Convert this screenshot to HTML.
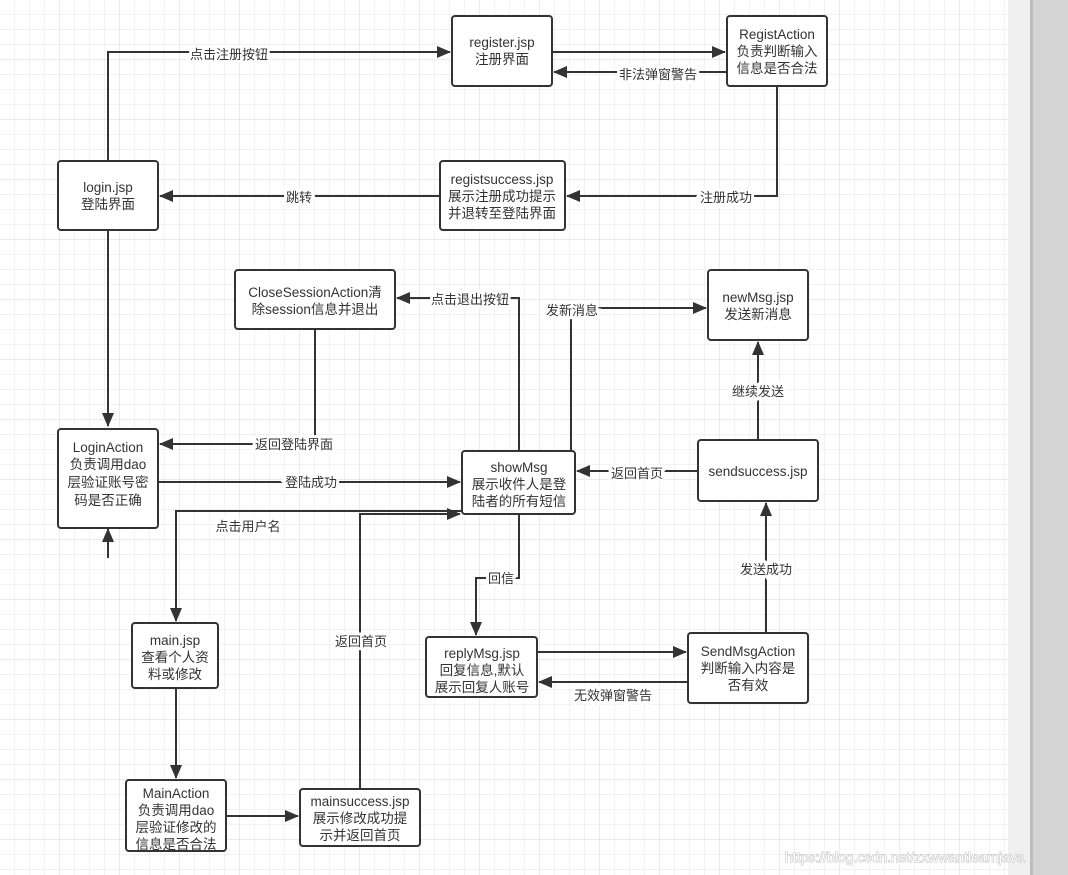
<!DOCTYPE html>
<html><head><meta charset="utf-8"><style>
html,body{margin:0;padding:0;width:1068px;height:875px;overflow:hidden;background:#fff}
svg{display:block}
text{font-family:"Liberation Sans","Noto Sans CJK SC",sans-serif;font-size:13px;fill:#333}
.t text{font-size:13.5px}
.n{fill:#fff;stroke:#333;stroke-width:2}
.l{fill:none;stroke:#333;stroke-width:2}
.lb{paint-order:stroke;stroke:#fff;stroke-width:6px;stroke-linejoin:miter}
</style></head><body>
<svg width="1068" height="875" viewBox="0 0 1068 875">
<defs>
<pattern id="g" width="15" height="15" patternUnits="userSpaceOnUse" x="-1" y="-1">
<path d="M0 0H15M0 0V15" stroke="#ebebeb" stroke-width="1.2" fill="none"/>
</pattern>
<pattern id="G" width="60" height="60" patternUnits="userSpaceOnUse" x="-1" y="-1">
<path d="M0 0H60M0 0V60" stroke="#e0e0e0" stroke-width="1.2" fill="none"/>
</pattern>
<marker id="a" markerWidth="14" markerHeight="12" refX="13" refY="6" orient="auto" markerUnits="userSpaceOnUse">
<path d="M0 0L14 6L0 12Z" fill="#333"/>
</marker>
</defs>
<rect width="1008" height="875" fill="url(#g)"/>
<rect width="1008" height="875" fill="url(#G)"/>
<rect x="1008" y="0" width="22" height="875" fill="#f0f0f0"/>
<rect x="1030" y="0" width="38" height="875" fill="#d5d5d5"/>
<rect x="1030" y="0" width="3" height="875" fill="#bdbdbd"/>

<g class="l">
<path d="M108 161V52H450" marker-end="url(#a)"/>
<path d="M552 52H725" marker-end="url(#a)"/>
<path d="M727 72H554" marker-end="url(#a)"/>
<path d="M777 86V196H567" marker-end="url(#a)"/>
<path d="M440 196H160" marker-end="url(#a)"/>
<path d="M108 230V426" marker-end="url(#a)"/>
<path d="M108 558V529" marker-end="url(#a)"/>
<path d="M315 329V444H160" marker-end="url(#a)"/>
<path d="M519 451V298H397" marker-end="url(#a)"/>
<path d="M571 451V308H706" marker-end="url(#a)"/>
<path d="M158 482H460" marker-end="url(#a)"/>
<path d="M462 511H176V621" marker-end="url(#a)"/>
<path d="M360 789V514H460" marker-end="url(#a)"/>
<path d="M519 514V578H476V635" marker-end="url(#a)"/>
<path d="M537 652H686" marker-end="url(#a)"/>
<path d="M688 682H539" marker-end="url(#a)"/>
<path d="M766 633V503" marker-end="url(#a)"/>
<path d="M698 471H577" marker-end="url(#a)"/>
<path d="M758 440V342" marker-end="url(#a)"/>
<path d="M176 688V778" marker-end="url(#a)"/>
<path d="M226 816H298" marker-end="url(#a)"/>
</g>

<g text-anchor="middle">
<text class="lb" x="229" y="59">点击注册按钮</text>
<text class="lb" x="658" y="79">非法弹窗警告</text>
<text class="lb" x="726" y="202">注册成功</text>
<text class="lb" x="299" y="202">跳转</text>
<text class="lb" x="294" y="449">返回登陆界面</text>
<text class="lb" x="470" y="304">点击退出按钮</text>
<text class="lb" x="572" y="315">发新消息</text>
<text class="lb" x="311" y="487">登陆成功</text>
<text class="lb" x="248" y="531">点击用户名</text>
<text class="lb" x="361" y="646">返回首页</text>
<text class="lb" x="501" y="583">回信</text>
<text class="lb" x="613" y="700">无效弹窗警告</text>
<text class="lb" x="766" y="574">发送成功</text>
<text class="lb" x="637" y="478">返回首页</text>
<text class="lb" x="758" y="396">继续发送</text>
</g>

<rect class="n" x="452" y="16" width="100" height="70" rx="3"/>
<rect class="n" x="727" y="16" width="100" height="70" rx="3"/>
<rect class="n" x="58" y="161" width="100" height="69" rx="3"/>
<rect class="n" x="440" y="161" width="125" height="69" rx="3"/>
<rect class="n" x="235" y="270" width="160" height="59" rx="3"/>
<rect class="n" x="708" y="270" width="100" height="70" rx="3"/>
<rect class="n" x="58" y="429" width="100" height="99" rx="3"/>
<rect class="n" x="462" y="451" width="113" height="63" rx="3"/>
<rect class="n" x="698" y="440" width="120" height="61" rx="3"/>
<rect class="n" x="132" y="623" width="86" height="65" rx="3"/>
<rect class="n" x="426" y="637" width="111" height="60" rx="3"/>
<rect class="n" x="688" y="633" width="120" height="70" rx="3"/>
<rect class="n" x="126" y="780" width="100" height="71" rx="3"/>
<rect class="n" x="300" y="789" width="120" height="57" rx="3"/>

<g text-anchor="middle" class="t">
<text x="502" y="47">register.jsp</text><text x="502" y="64">注册界面</text>
<text x="777" y="39">RegistAction</text><text x="777" y="56">负责判断输入</text><text x="777" y="73">信息是否合法</text>
<text x="108" y="192">login.jsp</text><text x="108" y="209">登陆界面</text>
<text x="502" y="184">registsuccess.jsp</text><text x="502" y="201">展示注册成功提示</text><text x="502" y="218">并退转至登陆界面</text>
<text x="315" y="297">CloseSessionAction清</text><text x="315" y="314">除session信息并退出</text>
<text x="758" y="302">newMsg.jsp</text><text x="758" y="319">发送新消息</text>
<text x="108" y="452">LoginAction</text><text x="108" y="469">负责调用dao</text><text x="108" y="487">层验证账号密</text><text x="108" y="505">码是否正确</text>
<text x="519" y="472">showMsg</text><text x="519" y="489">展示收件人是登</text><text x="519" y="506">陆者的所有短信</text>
<text x="758" y="476">sendsuccess.jsp</text>
<text x="175" y="645">main.jsp</text><text x="175" y="662">查看个人资</text><text x="175" y="679">料或修改</text>
<text x="482" y="658">replyMsg.jsp</text><text x="482" y="675">回复信息,默认</text><text x="482" y="692">展示回复人账号</text>
<text x="748" y="656">SendMsgAction</text><text x="748" y="673">判断输入内容是</text><text x="748" y="690">否有效</text>
<text x="176" y="798">MainAction</text><text x="176" y="815">负责调用dao</text><text x="176" y="832">层验证修改的</text><text x="176" y="849">信息是否合法</text>
<text x="360" y="806">mainsuccess.jsp</text><text x="360" y="823">展示修改成功提</text><text x="360" y="840">示并返回首页</text>
</g>
<text x="785" y="862" style="font-size:14px;fill:#fff;stroke:#aaa;stroke-width:0.8px;paint-order:stroke">https://blog.csdn.net/zxwwantlearnjava</text>
</svg>
</body></html>
